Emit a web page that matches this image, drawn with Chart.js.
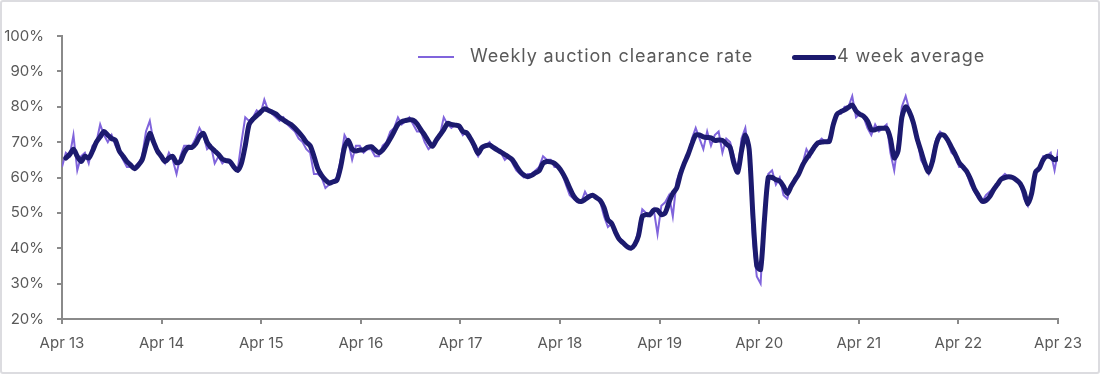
<!DOCTYPE html>
<html>
<head>
<meta charset="utf-8">
<script src="https://cdn.jsdelivr.net/npm/chart.js@4.4.1/dist/chart.umd.min.js"></script>
<style>
  html, body { margin: 0; padding: 0; background: #fff; }
  #wrap { position: relative; width: 1100px; height: 374px; font-family: Inter, "Open Sans", sans-serif; }
  #frame { position: absolute; left: 0; top: 0; width: 1100px; height: 374px; box-sizing: border-box;
           border: 2px solid #dcdce0; border-radius: 3px; pointer-events: none; }
  canvas { position: absolute; left: 0; top: 0; }
  .lg-line { position: absolute; }
  .lg-text { position: absolute; top: 45px; font-size: 18px; letter-spacing: 0.9px; line-height: 22px; color: #595959; white-space: nowrap; }
</style>
</head>
<body>
<div id="wrap">
  <canvas id="c" width="1100" height="374"></canvas>
  <div class="lg-line" style="left:418px;top:56px;width:36px;height:2px;background:#8064dc;"></div>
  <div class="lg-text" style="left:470px;">Weekly auction clearance rate</div>
  <div class="lg-line" style="left:792px;top:55px;width:44px;height:5px;border-radius:3px;background:#1c1a6e;"></div>
  <div class="lg-text" style="left:837px;">4 week average</div>
  <div id="frame"></div>
</div>
<script>
// one point every two weeks, Apr 2013 .. Apr 2023
const tickLabels = ['Apr 13', 'Apr 14', 'Apr 15', 'Apr 16', 'Apr 17', 'Apr 18', 'Apr 19', 'Apr 20', 'Apr 21', 'Apr 22', 'Apr 23'];
const weeksPerYear = 52.18;
const stepWeeks = 2;

const weekly = [
  63,67,66,72,62,66,67,64,69,70,75,72,70,72,69,67,65,63,63,63,64,66,73,76,70,67,
  66,64,67,65,61,66,69,69,69,71,74,72,68,69,64,66,64,65,64,63,62,70,77,76,77,79,
  78,82,79,78,77,76,77,75,74,73,71,70,68,67,61,61,60,57,58,59,60,65,72,70,65,69,
  69,67,68,68,66,66,69,70,73,74,77,75,76,77,75,73,73,70,68,69,71,72,77,75,74,75,
  74,72,73,71,68,66,68,69,70,68,68,67,65,66,64,62,61,60,61,61,62,63,66,65,65,63,
  63,61,58,55,54,53,53,56,54,55,54,53,49,46,47,44,43,42,40,40,41,45,51,50,49,51,
  44,52,53,55,49,59,62,64,66,71,74,71,68,73,69,72,73,67,71,70,66,62,71,74,66,42,
  32,30,50,61,62,58,60,55,54,58,59,61,64,68,66,69,70,71,70,71,76,78,78,80,80,83,
  77,78,77,74,72,75,73,74,75,67,62,70,80,83,79,75,71,65,63,61,66,71,73,72,70,67,
  66,63,63,61,58,56,54,53,55,56,57,58,60,61,60,60,59,58,54,52,57,62,63,66,66,67,
  62,68
];

const average = [
  null,65.5,66.5,68,66,64.5,66,65.5,67.5,70,71.5,73,72,71,70.5,67.5,66,64.5,63.5,62.5,63.5,65,69,72.5,70,67.5,
  66,64.5,65.5,66,64.2,64.5,67,68.5,68.5,69.5,71.5,72.5,70,68.5,67.5,66.5,65.2,64.8,64.5,63,62,64,69,75,76.5,77.5,
  78.5,79.4,79,78.5,78,77,76.3,75.6,75,74,72.8,71.5,70,69,66,62.5,60.6,59.3,58.4,58.8,59.2,63,68.5,70.5,68,67.5,
  67.8,67.8,68.5,68.7,67.8,67,67.8,69.2,71,73,75,75.8,76.1,76.3,76.2,75.2,73.5,72,70.2,68.8,70.5,72,73.5,75.3,75,74.8,
  74.6,73,72.6,71,69,66.8,68.5,69,69.2,68.5,67.8,67.2,66.5,65.8,65,63.3,61.7,60.7,60.2,60.6,61.3,61.9,64,64.5,64.4,64,
  63,61.5,59.5,57,54.8,53.6,53.2,53.8,54.6,55,54.3,53.5,51.5,48,47,44.5,42.5,41.5,40.5,40,41,43.5,49,49.5,49.5,50.8,
  50.8,49.5,50,53,55.5,57,61,64,66.5,69.5,72,72,71.5,71.3,71.2,70.5,70.6,70.5,69.5,68.5,64,61.5,67.5,72,68,49,
  35,34,48,60,60,59.4,59,57.5,55.5,57.5,59.3,61,63.5,65.3,66.8,68.5,69.8,70,70.1,70.2,74.8,77.9,78.6,79.1,79.8,80.5,
  78.8,77.9,77.3,76,73.5,73.5,73.9,73.9,73.9,71,65.5,67.5,77,80,78.5,75.5,71,67.5,64,61.5,64.5,69.5,72,72,70.6,68.5,
  66.5,64.2,63,61.7,59.5,56.8,55,53.3,53.5,54.6,56.5,58,59.5,60,60.2,60,59.3,58.3,56,52.5,55.5,61.5,62.6,65,66,65.8,
  65,65.4
];

const yTicks = [20, 30, 40, 50, 60, 70, 80, 90, 100];

const axisColor = '#8a8a8a';
const textColor = '#595959';
const tickFont = { family: 'Inter', size: 15 };

const toPoints = arr => arr.map((v, i) => ({ x: i * stepWeeks, y: v }));

new Chart(document.getElementById('c'), {
  type: 'line',
  data: {
    datasets: [
      { label: 'Weekly auction clearance rate', data: toPoints(weekly), borderColor: '#8064dc', borderWidth: 2,
        pointRadius: 0, tension: 0, order: 2 },
      { label: '4 week average', data: toPoints(average), borderColor: '#1c1a6e', borderWidth: 5,
        pointRadius: 0, tension: 0.25, borderCapStyle: 'round', borderJoinStyle: 'round', order: 1 }
    ]
  },
  options: {
    responsive: false,
    animation: false,
    layout: { padding: { left: 0, right: 42, top: 36, bottom: 0 } },
    plugins: { legend: { display: false }, tooltip: { enabled: false } },
    scales: {
      x: {
        type: 'linear', min: 0, max: (tickLabels.length - 1) * weeksPerYear,
        afterBuildTicks: s => { s.ticks = tickLabels.map((l, k) => ({ value: k * weeksPerYear })); },
        afterFit: s => { s.height = 55; },
        ticks: { autoSkip: false, maxRotation: 0, padding: 10, color: textColor, font: tickFont,
                 callback: (v, i) => tickLabels[i] },
        grid: { drawOnChartArea: false, drawTicks: true, tickLength: 5, color: axisColor, lineWidth: 2 },
        border: { display: true, color: axisColor, width: 2 }
      },
      y: {
        min: 20, max: 100,
        afterBuildTicks: s => { s.ticks = yTicks.map(v => ({ value: v })); },
        afterFit: s => { s.width = 62; },
        ticks: { padding: 13, color: textColor, font: tickFont, callback: v => v + '%' },
        grid: { drawOnChartArea: false, drawTicks: true, tickLength: 5, color: axisColor, lineWidth: 2 },
        border: { display: true, color: axisColor, width: 2 }
      }
    }
  }
});
</script>
</body>
</html>
